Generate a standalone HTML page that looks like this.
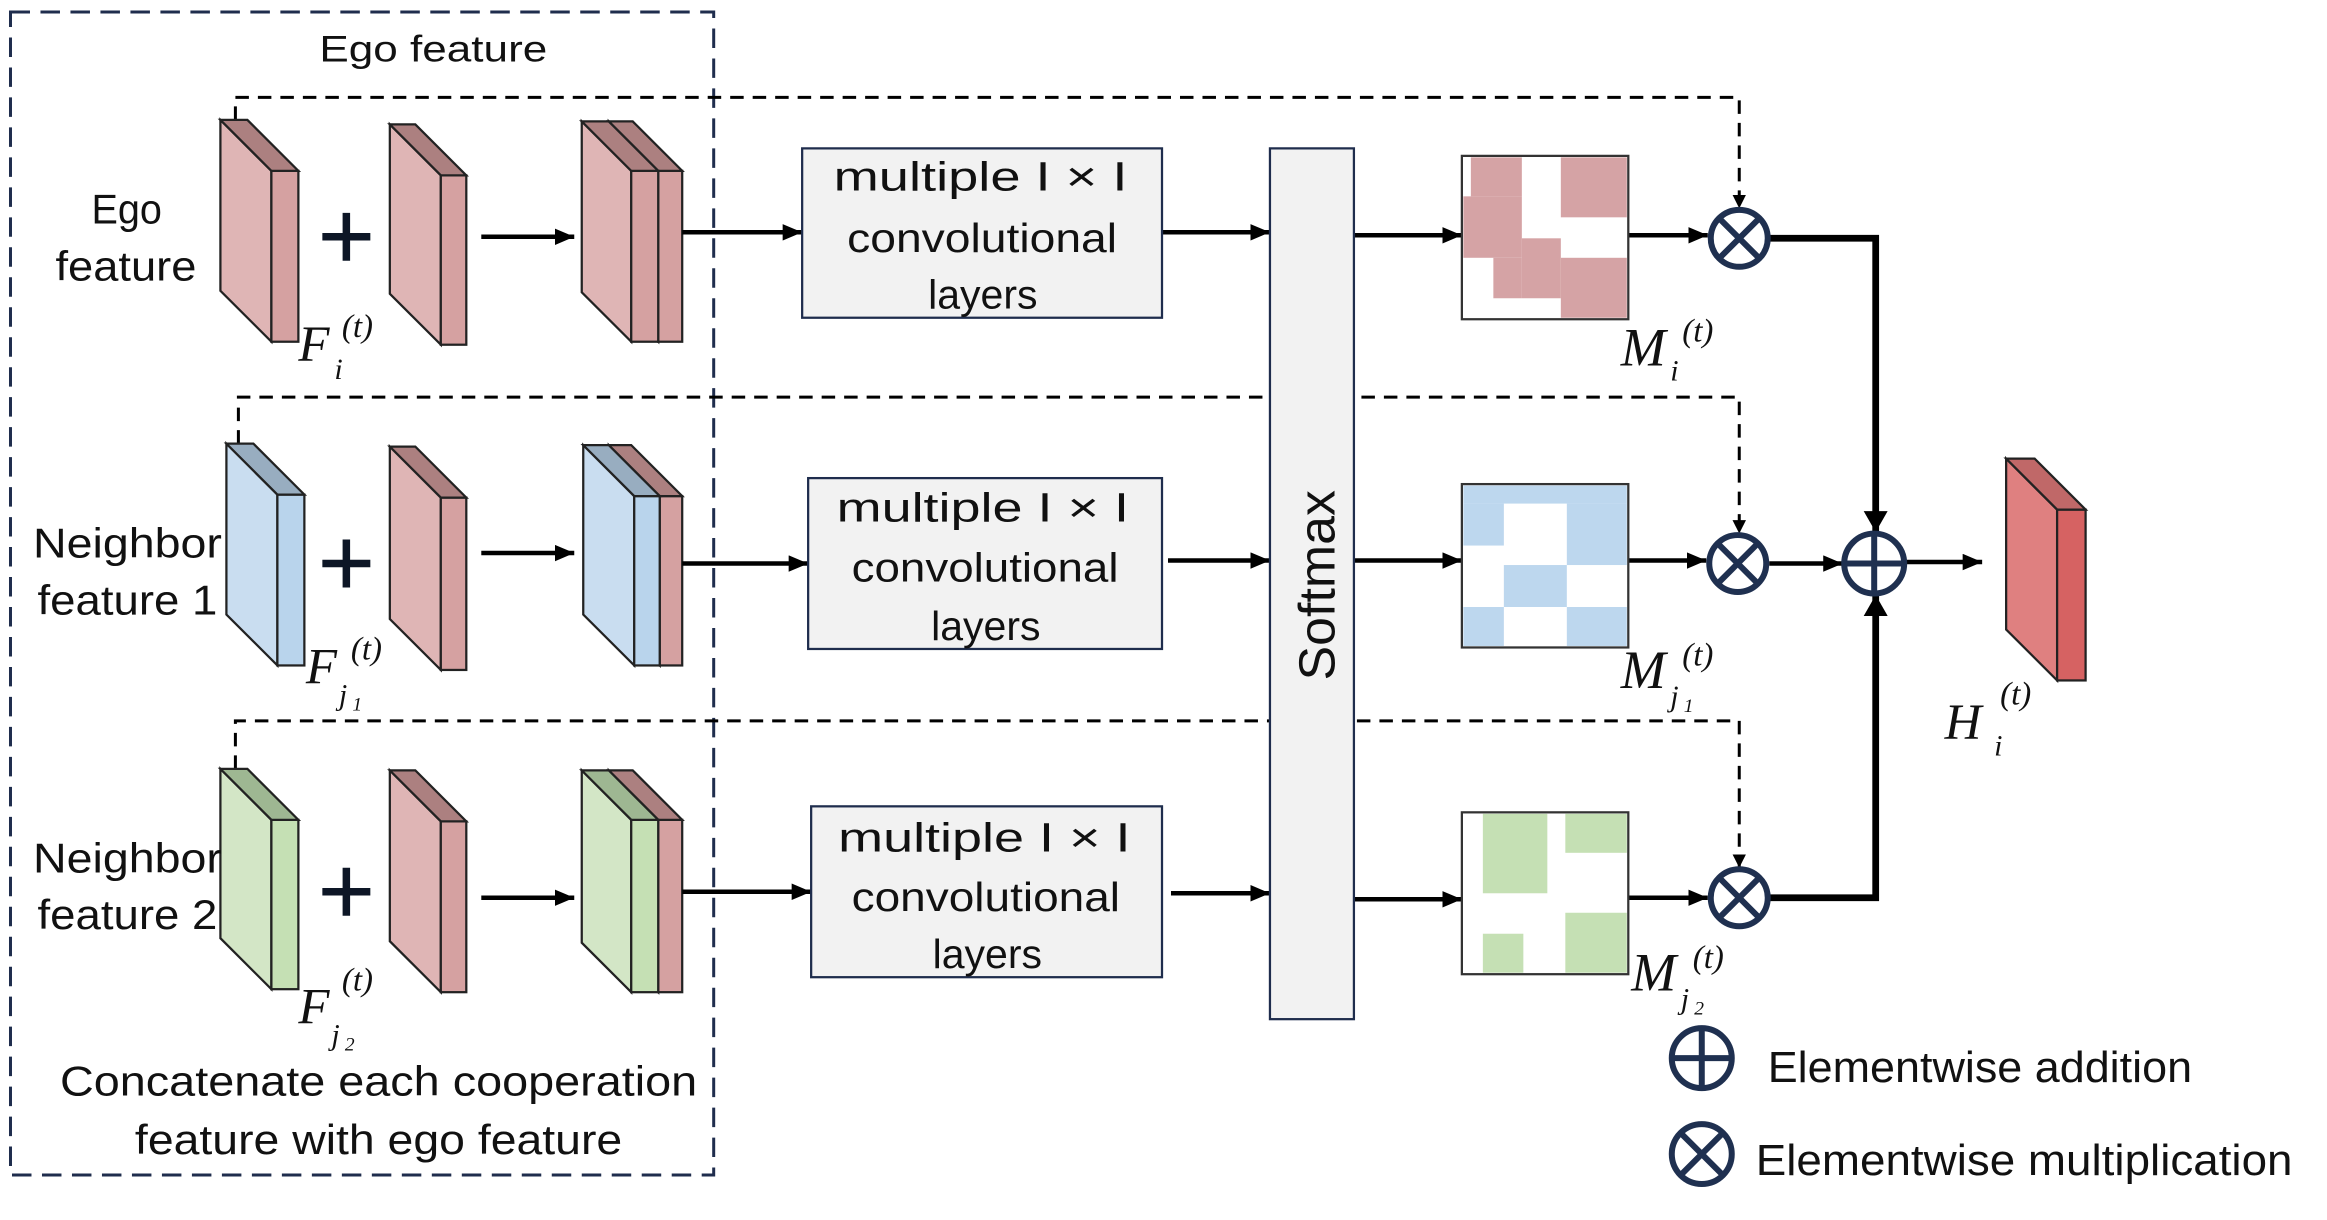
<!DOCTYPE html>
<html><head><meta charset="utf-8"><style>
html,body{margin:0;padding:0;background:#fff;}
svg{display:block;}
text{font-family:"Liberation Sans",sans-serif;fill:#111;}
.m{font-family:"Liberation Serif",serif;font-style:italic;}
</style></head><body>
<svg width="2327" height="1220" viewBox="0 0 1552 814" preserveAspectRatio="none" xmlns="http://www.w3.org/2000/svg">
<defs>
<marker id="a" markerUnits="userSpaceOnUse" viewBox="0 0 13 11" refX="13" refY="5.5" markerWidth="13" markerHeight="11" orient="auto"><path d="M0,0L13,5.5L0,11z" fill="#000"/></marker>
<marker id="b" markerUnits="userSpaceOnUse" viewBox="0 0 9 9" refX="9" refY="4.5" markerWidth="9" markerHeight="9" orient="auto"><path d="M0,0L9,4.5L0,9z" fill="#000"/></marker>
<marker id="c" markerUnits="userSpaceOnUse" viewBox="0 0 14 16" refX="14" refY="8" markerWidth="14" markerHeight="16" orient="auto"><path d="M0,0L14,8L0,16z" fill="#000"/></marker>
</defs>
<rect x="7" y="8" width="469" height="776" fill="none" stroke="#1f2d4d" stroke-width="2" stroke-dasharray="13,7"/>
<text x="213" y="41" font-size="25" textLength="152" lengthAdjust="spacingAndGlyphs">Ego feature</text>

<g stroke="#000" stroke-width="2" stroke-dasharray="9,6" fill="none">
<path d="M157,80V65H1160V139" marker-end="url(#b)"/>
<path d="M159,296V265H1160V356" marker-end="url(#b)"/>
<path d="M157,513V481H1160V579" marker-end="url(#b)"/>
</g>

<g stroke="#222" stroke-width="1.5">
<!-- row1 -->
<polygon points="147,80 181,114 181,228 147,194" fill="#dfb5b5"/><rect x="181" y="114" width="18" height="114" fill="#d5a1a1"/><polygon points="147,80 165,80 199,114 181,114" fill="#ac8080"/>
<polygon points="260,83 294,117 294,230 260,196" fill="#dfb5b5"/><rect x="294" y="117" width="17" height="113" fill="#d5a1a1"/><polygon points="260,83 277,83 311,117 294,117" fill="#ac8080"/>
<polygon points="406,81 439,114 439,228 406,195" fill="#dfb5b5"/><rect x="439" y="114" width="16" height="114" fill="#d5a1a1"/><polygon points="406,81 422,81 455,114 439,114" fill="#ac8080"/>
<polygon points="388,81 421,114 421,228 388,195" fill="#dfb5b5"/><rect x="421" y="114" width="18" height="114" fill="#d5a1a1"/><polygon points="388,81 406,81 439,114 421,114" fill="#ac8080"/>
<!-- row2 -->
<polygon points="151,296 185,330 185,444 151,410" fill="#c9ddf0"/><rect x="185" y="330" width="18" height="114" fill="#b9d4ec"/><polygon points="151,296 169,296 203,330 185,330" fill="#98adc0"/>
<polygon points="260,298 294,332 294,447 260,413" fill="#dfb5b5"/><rect x="294" y="332" width="17" height="115" fill="#d5a1a1"/><polygon points="260,298 277,298 311,332 294,332" fill="#ac8080"/>
<polygon points="406,297 440,331 440,444 406,410" fill="#dfb5b5"/><rect x="440" y="331" width="15" height="113" fill="#d5a1a1"/><polygon points="406,297 421,297 455,331 440,331" fill="#ac8080"/>
<polygon points="389,297 423,331 423,444 389,410" fill="#c9ddf0"/><rect x="423" y="331" width="17" height="113" fill="#b9d4ec"/><polygon points="389,297 406,297 440,331 423,331" fill="#98adc0"/>
<!-- row3 -->
<polygon points="147,513 181,547 181,660 147,626" fill="#d3e6c6"/><rect x="181" y="547" width="18" height="113" fill="#c5e0b4"/><polygon points="147,513 165,513 199,547 181,547" fill="#9eb792"/>
<polygon points="260,514 294,548 294,662 260,628" fill="#dfb5b5"/><rect x="294" y="548" width="17" height="114" fill="#d5a1a1"/><polygon points="260,514 277,514 311,548 294,548" fill="#ac8080"/>
<polygon points="406,514 439,547 439,662 406,629" fill="#dfb5b5"/><rect x="439" y="547" width="16" height="115" fill="#d5a1a1"/><polygon points="406,514 422,514 455,547 439,547" fill="#ac8080"/>
<polygon points="388,514 421,547 421,662 388,629" fill="#d3e6c6"/><rect x="421" y="547" width="18" height="115" fill="#c5e0b4"/><polygon points="388,514 406,514 439,547 421,547" fill="#9eb792"/>
<!-- output -->
<polygon points="1338,306 1372,340 1372,454 1338,420" fill="#df8080"/><rect x="1372" y="340" width="19" height="114" fill="#d66262"/><polygon points="1338,306 1357,306 1391,340 1372,340" fill="#c06868"/>
</g>

<g stroke="#0d1626" stroke-width="5"><path d="M215,158H247M231,142V174"/><path d="M215,376H247M231,360V392"/><path d="M215,595H247M231,579V611"/></g>

<text x="61" y="149" font-size="28" textLength="47" lengthAdjust="spacingAndGlyphs">Ego</text>
<text x="37" y="187" font-size="28" textLength="94" lengthAdjust="spacingAndGlyphs">feature</text>
<text x="22" y="372" font-size="28" textLength="126" lengthAdjust="spacingAndGlyphs">Neighbor</text>
<text x="25" y="410" font-size="28" textLength="120" lengthAdjust="spacingAndGlyphs">feature 1</text>
<text x="22" y="582" font-size="28" textLength="126" lengthAdjust="spacingAndGlyphs">Neighbor</text>
<text x="25" y="620" font-size="28" textLength="120" lengthAdjust="spacingAndGlyphs">feature 2</text>
<text x="40" y="731" font-size="28" textLength="425" lengthAdjust="spacingAndGlyphs">Concatenate  each cooperation</text>
<text x="90" y="770" font-size="28" textLength="325" lengthAdjust="spacingAndGlyphs">feature with ego feature</text>

<g stroke="#000" stroke-width="3" fill="none" marker-end="url(#a)">
<path d="M321,158H383"/><path d="M321,369H383"/><path d="M321,599H383"/>
<path d="M455,155H535"/><path d="M455,376H539"/><path d="M455,595H541"/>
<path d="M775,155H847"/><path d="M779,374H847"/><path d="M781,596H847"/>
<path d="M903,157H975"/><path d="M903,374H975"/><path d="M903,600H975"/>
<path d="M1086,157H1139"/><path d="M1086,374H1138"/><path d="M1086,599H1139"/>
<path d="M1180,376H1229"/><path d="M1271,375H1322"/>
</g>
<g stroke="#000" stroke-width="4.5" fill="none" marker-end="url(#c)">
<path d="M1180,159H1251V355"/><path d="M1180,599H1251V397"/>
</g>

<g fill="#f2f2f2" stroke="#1f2d4d" stroke-width="1.5">
<rect x="535" y="99" width="240" height="113"/><rect x="539" y="319" width="236" height="114"/><rect x="541" y="538" width="234" height="114"/>
<rect x="847" y="99" width="56" height="581"/>
</g>
<g font-size="27">
<text x="556" y="127" textLength="196" lengthAdjust="spacingAndGlyphs">multiple I × I</text><text x="565" y="168" textLength="180" lengthAdjust="spacingAndGlyphs">convolutional</text><text x="619" y="206" textLength="73" lengthAdjust="spacingAndGlyphs">layers</text>
<text x="558" y="348" textLength="195" lengthAdjust="spacingAndGlyphs">multiple I × I</text><text x="568" y="388" textLength="178" lengthAdjust="spacingAndGlyphs">convolutional</text><text x="621" y="427" textLength="73" lengthAdjust="spacingAndGlyphs">layers</text>
<text x="559" y="568" textLength="195" lengthAdjust="spacingAndGlyphs">multiple I × I</text><text x="568" y="608" textLength="179" lengthAdjust="spacingAndGlyphs">convolutional</text><text x="622" y="646" textLength="73" lengthAdjust="spacingAndGlyphs">layers</text>
</g>
<text transform="translate(890,454) rotate(-90)" font-size="34" textLength="127" lengthAdjust="spacingAndGlyphs">Softmax</text>

<!-- maps -->
<rect x="975" y="104" width="111" height="109" fill="#fff" stroke="#333" stroke-width="1.5"/>
<g fill="#d5a3a5"><rect x="981" y="105" width="34" height="26"/><rect x="976" y="131" width="39" height="41"/><rect x="1015" y="159" width="26" height="40"/><rect x="996" y="172" width="19" height="27"/><rect x="1041" y="105" width="44" height="40"/><rect x="1041" y="172" width="44" height="40"/></g>
<rect x="975" y="323" width="111" height="109" fill="#fff" stroke="#333" stroke-width="1.5"/>
<g fill="#bdd7ee"><rect x="976" y="324" width="109" height="12"/><rect x="976" y="336" width="27" height="28"/><rect x="1003" y="377" width="42" height="28"/><rect x="1045" y="336" width="40" height="41"/><rect x="976" y="405" width="27" height="26"/><rect x="1045" y="405" width="40" height="26"/></g>
<rect x="975" y="542" width="111" height="108" fill="#fff" stroke="#333" stroke-width="1.5"/>
<g fill="#c5e0b4"><rect x="989" y="543" width="43" height="53"/><rect x="1044" y="543" width="41" height="26"/><rect x="989" y="623" width="27" height="26"/><rect x="1044" y="609" width="41" height="40"/></g>

<!-- operators -->
<g stroke="#1f3050" stroke-width="4" fill="#fff">
<circle cx="1160" cy="159" r="19"/><circle cx="1159" cy="376" r="19"/><circle cx="1160" cy="599" r="19"/>
<circle cx="1250" cy="376" r="20"/>
<circle cx="1135" cy="706" r="20"/><circle cx="1135" cy="770" r="20"/>
</g>
<g stroke="#1f3050" stroke-width="4">
<path d="M1147,146L1173,172M1173,146L1147,172"/><path d="M1146,363L1172,389M1172,363L1146,389"/><path d="M1147,586L1173,612M1173,586L1147,612"/>
<path d="M1230,376H1270M1250,356V396"/>
<path d="M1115,706H1155M1135,686V726"/>
<path d="M1121,756L1149,784M1149,756L1121,784"/>
</g>
<text x="1179" y="722" font-size="29" textLength="283" lengthAdjust="spacingAndGlyphs">Elementwise addition</text>
<text x="1171" y="784" font-size="29" textLength="358" lengthAdjust="spacingAndGlyphs">Elementwise multiplication</text>

<!-- math labels -->
<g class="m">
<text x="199" y="241" font-size="34" class="m">F</text><text x="223" y="253" font-size="20" class="m">i</text><text x="228" y="225" font-size="22" class="m">(t)</text>
<text x="204" y="456" font-size="34" class="m">F</text><text x="226" y="470" font-size="20" class="m">j</text><text x="235" y="474" font-size="13" class="m">1</text><text x="234" y="440" font-size="22" class="m">(t)</text>
<text x="199" y="683" font-size="34" class="m">F</text><text x="221" y="697" font-size="20" class="m">j</text><text x="230" y="701" font-size="13" class="m">2</text><text x="228" y="661" font-size="22" class="m">(t)</text>
<text x="1081" y="244" font-size="36" class="m">M</text><text x="1114" y="254" font-size="20" class="m">i</text><text x="1122" y="228" font-size="22" class="m">(t)</text>
<text x="1081" y="459" font-size="36" class="m">M</text><text x="1114" y="471" font-size="20" class="m">j</text><text x="1123" y="475" font-size="13" class="m">1</text><text x="1122" y="444" font-size="22" class="m">(t)</text>
<text x="1088" y="661" font-size="36" class="m">M</text><text x="1121" y="673" font-size="20" class="m">j</text><text x="1130" y="677" font-size="13" class="m">2</text><text x="1129" y="646" font-size="22" class="m">(t)</text>
<text x="1297" y="493" font-size="34" class="m">H</text><text x="1330" y="504" font-size="20" class="m">i</text><text x="1334" y="470" font-size="22" class="m">(t)</text>
</g>
</svg>
</body></html>
